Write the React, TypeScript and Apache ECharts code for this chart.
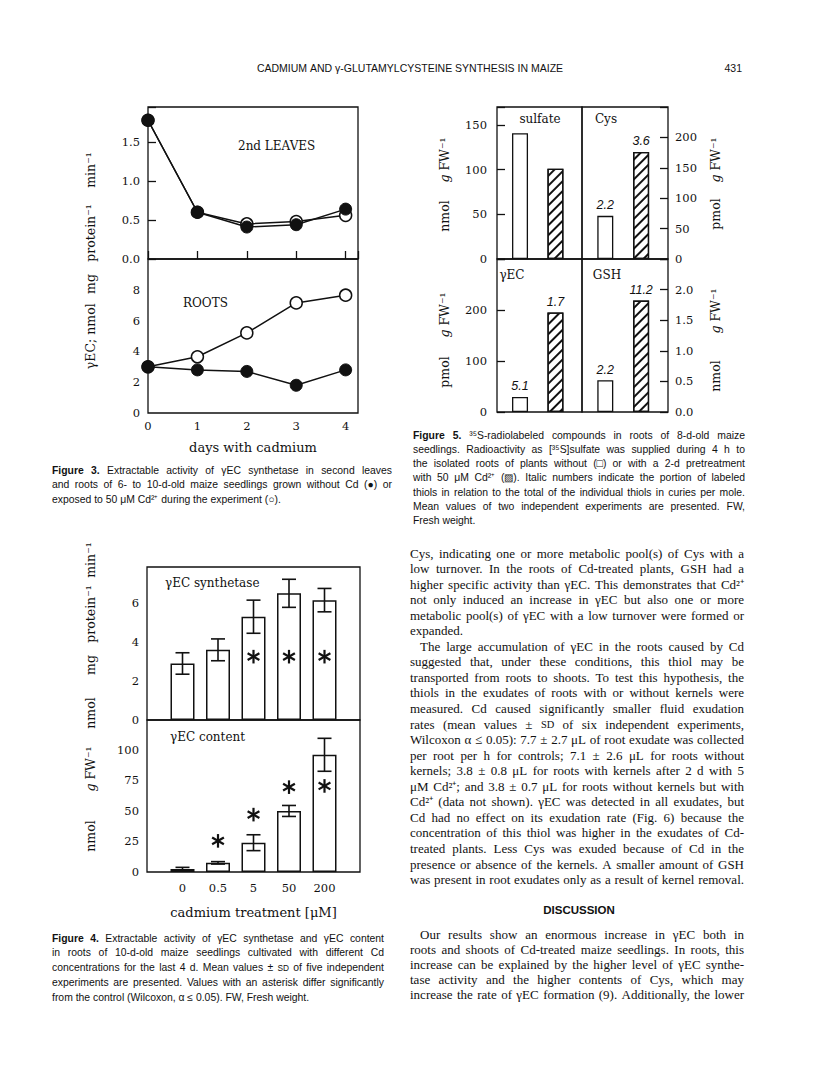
import React, { useEffect, useRef } from "react";
import * as echarts from "echarts";

// ---------- Figure 3 : gamma-EC synthetase vs. days with cadmium ----------
const days = [0, 1, 2, 3, 4];
const leavesControl = [1.78, 0.6, 0.41, 0.44, 0.64];
const leavesCd = [1.78, 0.6, 0.45, 0.48, 0.56];
const rootsControl = [3.0, 2.8, 2.7, 1.8, 2.8];
const rootsCd = [3.0, 3.65, 5.2, 7.15, 7.65];

// ---------- Figure 5 : 35S-labelled compounds (control, Cd) ----------
const treatments = ["control", "Cd"];
const sulfate = [140.7, 101];
const cys = [71, 176];
const gec = [29.5, 195];
const gsh = [0.52, 1.82];
const cysRatio = ["2.2", "3.6"];
const gecRatio = ["5.1", "1.7"];
const gshRatio = ["2.2", "11.2"];

// ---------- Figure 4 : cadmium treatment ----------
const cdLevels = ["0", "0.5", "5", "50", "200"];
const synthetase = [2.9, 3.6, 5.3, 6.5, 6.15];
const synthetaseSd = [0.55, 0.56, 0.85, 0.72, 0.6];
const content = [2.5, 7.5, 24, 50, 96];
const contentSd = [1.3, 1.0, 6.5, 4.5, 13.5];
const synthetaseStar = [null, null, 3.25, 3.25, 3.25];
const contentStar = [null, 25.5, 47, 69.5, 70.5];

// ---------- page text ----------
const header = "CADMIUM AND γ-GLUTAMYLCYSTEINE SYNTHESIS IN MAIZE";
const pageNo = "431";
const fig3Caption = [
  "Figure 3. Extractable activity of γEC synthetase in second leaves",
  "and roots of 6- to 10-d-old maize seedlings grown without Cd (●) or",
  "exposed to 50 μM Cd²⁺ during the experiment (○).",
];
const fig5Caption = [
  "Figure 5. ³⁵S-radiolabeled compounds in roots of 8-d-old maize",
  "seedlings. Radioactivity as [³⁵S]sulfate was supplied during 4 h to",
  "the isolated roots of plants without (□) or with a 2-d pretreatment",
  "with 50 μM Cd²⁺ (▨). Italic numbers indicate the portion of labeled",
  "thiols in relation to the total of the individual thiols in curies per mole.",
  "Mean values of two independent experiments are presented. FW,",
  "Fresh weight.",
];
const fig4Caption = [
  "Figure 4. Extractable activity of γEC synthetase and γEC content",
  "in roots of 10-d-old maize seedlings cultivated with different Cd",
  "concentrations for the last 4 d. Mean values ± SD of five independent",
  "experiments are presented. Values with an asterisk differ significantly",
  "from the control (Wilcoxon, α ≤ 0.05). FW, Fresh weight.",
];
const bodyParas = [
  [
    "Cys, indicating one or more metabolic pool(s) of Cys with a",
    "low turnover. In the roots of Cd-treated plants, GSH had a",
    "higher specific activity than γEC. This demonstrates that Cd²⁺",
    "not only induced an increase in γEC but also one or more",
    "metabolic pool(s) of γEC with a low turnover were formed or",
    "expanded.",
  ],
  [
    "The large accumulation of γEC in the roots caused by Cd",
    "suggested that, under these conditions, this thiol may be",
    "transported from roots to shoots. To test this hypothesis, the",
    "thiols in the exudates of roots with or without kernels were",
    "measured. Cd caused significantly smaller fluid exudation",
    "rates (mean values ± SD of six independent experiments,",
    "Wilcoxon α ≤ 0.05): 7.7 ± 2.7 μL of root exudate was collected",
    "per root per h for controls; 7.1 ± 2.6 μL for roots without",
    "kernels; 3.8 ± 0.8 μL for roots with kernels after 2 d with 5",
    "μM Cd²⁺; and 3.8 ± 0.7 μL for roots without kernels but with",
    "Cd²⁺ (data not shown). γEC was detected in all exudates, but",
    "Cd had no effect on its exudation rate (Fig. 6) because the",
    "concentration of this thiol was higher in the exudates of Cd-",
    "treated plants. Less Cys was exuded because of Cd in the",
    "presence or absence of the kernels. A smaller amount of GSH",
    "was present in root exudates only as a result of kernel removal.",
  ],
];
const discussionTitle = "DISCUSSION";
const discussionLines = [
  "Our results show an enormous increase in γEC both in",
  "roots and shoots of Cd-treated maize seedlings. In roots, this",
  "increase can be explained by the higher level of γEC synthe-",
  "tase activity and the higher contents of Cys, which may",
  "increase the rate of γEC formation (9). Additionally, the lower",
];

const INK = "#111";
const SERIF_FIG = '"DejaVu Serif", serif';
const SANS = '"Liberation Sans", Arial, sans-serif';
const SERIF_BODY = '"Liberation Serif", "Times New Roman", serif';

let measureCtx: CanvasRenderingContext2D | null = null;
function textWidth(t: string, font: string): number {
  if (!measureCtx) measureCtx = document.createElement("canvas").getContext("2d");
  measureCtx!.font = font;
  return measureCtx!.measureText(t).width;
}

function textEl(text: string, x: number, y: number, font: string, align = "left", extra: any = {}) {
  return {
    type: "text",
    x,
    y,
    silent: true,
    ...extra,
    style: {
      text,
      font,
      fill: INK,
      align,
      verticalAlign: "middle",
      textAlign: align,
      textVerticalAlign: "middle",
      ...(extra.style || {}),
    },
  };
}

function lineEls(text: string, x0: number, x1: number, y: number, size: number, family: string, justify: boolean, boldWords = 0) {
  const words = text.split(/\s+/).filter(Boolean);
  const items = words.map((t, i) => {
    const bold = i < boldWords;
    const s = t.replace(/[^A-Za-z]/g, "") === "SD" ? size * 0.8 : size;
    const font = `${bold ? "bold " : ""}${s}px ${family}`;
    return { t, font, w: textWidth(t, font) };
  });
  const sum = items.reduce((a, b) => a + b.w, 0);
  const space = textWidth(" ", `${size}px ${family}`);
  let gap = space;
  if (items.length > 1) {
    const natural = sum + space * (items.length - 1);
    if (justify || natural > 0.94 * (x1 - x0)) gap = (x1 - x0 - sum) / (items.length - 1);
  }
  let x = x0;
  const out: any[] = [];
  for (const it of items) {
    out.push(textEl(it.t, x, y, it.font));
    x += it.w + gap;
  }
  return out;
}

function vText(text: string, x: number, y: number, size = 12.5) {
  const parts = text.split("|");
  const rich = parts.map((p) => (p.startsWith("i:") ? `{i|${p.slice(2)}}` : `{n|${p}}`)).join("");
  return {
    type: "text",
    x,
    y,
    rotation: Math.PI / 2,
    silent: true,
    style: {
      text: rich,
      fill: INK,
      align: "center",
      verticalAlign: "middle",
      textAlign: "center",
      textVerticalAlign: "middle",
      rich: {
        n: { fontFamily: SERIF_FIG, fontSize: size, color: INK },
        i: { fontFamily: SERIF_FIG, fontSize: size, fontStyle: "italic", color: INK },
      },
    },
  };
}

function buildOption(): any {
  const tickLabel = { color: INK, fontFamily: SERIF_FIG, fontSize: 11.5 };
  const onGrid = (interval: number, digits: number, max: number) => (v: number) =>
    v < max - 1e-9 && Math.abs(v / interval - Math.round(v / interval)) < 1e-6 ? v.toFixed(digits) : "";
  const tickInside = { show: true, inside: true, length: 8, lineStyle: { color: INK, width: 1.3 } };
  const noLine = { show: false, onZero: false };

  const grids = [
    { left: 148, top: 107, width: 210, height: 152 },
    { left: 148, top: 259, width: 210, height: 154 },
    { left: 497, top: 107, width: 85, height: 152 },
    { left: 582, top: 107, width: 86, height: 152 },
    { left: 497, top: 259, width: 85, height: 153 },
    { left: 582, top: 259, width: 86, height: 153 },
    { left: 147, top: 567, width: 213, height: 153 },
    { left: 147, top: 720, width: 213, height: 152 },
  ].map((g) => ({
    ...g,
    show: true,
    borderColor: INK,
    borderWidth: 1.3,
    backgroundColor: "transparent",
    containLabel: false,
    outerBoundsMode: "none",
  }));

  const paddedCd = ["", ...cdLevels, ""];
  const f5x = (gi: number) => ({ gridIndex: gi, type: "value", min: -0.65, max: 1.75, show: false, axisLine: noLine });

  const xAxis = [
    { gridIndex: 0, type: "value", min: 0, max: 4.25, interval: 1, axisLine: noLine, axisTick: tickInside, axisLabel: { show: false }, splitLine: { show: false } },
    {
      gridIndex: 1, type: "value", min: 0, max: 4.25, interval: 1, axisLine: noLine, axisTick: { show: false },
      axisLabel: { ...tickLabel, margin: 7, formatter: onGrid(1, 0, 4.25) }, splitLine: { show: false },
      name: "days with cadmium", nameLocation: "middle", nameGap: 28,
      nameTextStyle: { color: INK, fontFamily: SERIF_FIG, fontSize: 13 },
    },
    f5x(2), f5x(3), f5x(4), f5x(5),
    { gridIndex: 6, type: "category", data: paddedCd, boundaryGap: false, axisLine: noLine, axisTick: { show: false }, axisLabel: { show: false }, splitLine: { show: false } },
    {
      gridIndex: 7, type: "category", data: paddedCd, boundaryGap: false, axisLine: noLine, axisTick: { show: false },
      axisLabel: { ...tickLabel, margin: 10, interval: 0 }, splitLine: { show: false },
      name: "cadmium treatment [μM]", nameLocation: "middle", nameGap: 34,
      nameTextStyle: { color: INK, fontFamily: SERIF_FIG, fontSize: 13 },
    },
  ];

  const yv = (gi: number, min: number, max: number, interval: number, digits: number, ticks: boolean, margin: number, position = "left") => ({
    gridIndex: gi, type: "value", min, max, interval, position,
    axisLine: noLine, splitLine: { show: false },
    axisTick: ticks ? tickInside : { show: false },
    axisLabel: { ...tickLabel, margin, formatter: onGrid(interval, digits, max) },
  });

  const yAxis = [
    yv(0, 0, 1.95, 0.5, 1, true, 8),
    yv(1, 0, 10, 2, 0, false, 8),
    yv(2, 0, 170, 50, 0, true, 10),
    yv(3, 0, 250, 50, 0, true, 7, "right"),
    yv(4, 0, 300, 100, 0, true, 10),
    yv(5, 0, 2.5, 0.5, 1, true, 7, "right"),
    yv(6, 0, 7.85, 2, 0, false, 8),
    yv(7, 0, 124.5, 25, 0, false, 8),
  ];

  const lineSeries = (axis: number, values: number[], filled: boolean, z: number) => ({
    type: "line", xAxisIndex: axis, yAxisIndex: axis, z,
    data: days.map((d, i) => [d, values[i]]),
    symbol: "circle", symbolSize: 12, showSymbol: true,
    lineStyle: { color: INK, width: 1.5 },
    itemStyle: filled ? { color: INK, borderColor: INK, borderWidth: 1 } : { color: "#fff", borderColor: INK, borderWidth: 1.5 },
    emphasis: { disabled: true }, silent: true,
  });

  const openStyle = { color: "#fff", borderColor: INK, borderWidth: 1.3 };
  const hatchStyle = {
    color: "#fff", borderColor: INK, borderWidth: 1.3,
    decal: { symbol: "rect", symbolSize: 1, color: INK, dashArrayX: [1, 0], dashArrayY: [1.1, 4.6], rotation: -Math.PI / 4 },
  };
  const f5Bar = (gi: number, values: number[], labels: string[] | null) => ({
    type: "bar", xAxisIndex: gi, yAxisIndex: gi, barWidth: 16, silent: true,
    data: values.map((v, i) => ({ value: [i, v], name: treatments[i], itemStyle: i === 0 ? openStyle : hatchStyle })),
    label: labels
      ? { show: true, position: "top", distance: 4, formatter: (p: any) => labels[p.dataIndex], fontStyle: "italic", fontFamily: SANS, fontSize: 12.5, color: INK }
      : { show: false },
  });

  const f4Bar = (gi: number, values: number[]) => ({
    type: "bar", xAxisIndex: gi, yAxisIndex: gi, barWidth: 24, silent: true,
    data: values.map((v, i) => [i + 1, v]),
    itemStyle: { color: "#fff", borderColor: INK, borderWidth: 1.5 },
  });

  const errSeries = (gi: number, values: number[], sd: number[]) => ({
    type: "custom", xAxisIndex: gi, yAxisIndex: gi, z: 5, silent: true,
    data: values.map((v, i) => [i + 1, v - sd[i], v + sd[i]]),
    renderItem: (_p: any, api: any) => {
      const x = api.value(0);
      const lo = api.coord([x, api.value(1)]);
      const hi = api.coord([x, api.value(2)]);
      const w = 7;
      const st = { stroke: INK, lineWidth: 1.6 };
      return {
        type: "group",
        children: [
          { type: "line", shape: { x1: lo[0], y1: lo[1], x2: hi[0], y2: hi[1] }, style: st },
          { type: "line", shape: { x1: lo[0] - w, y1: lo[1], x2: lo[0] + w, y2: lo[1] }, style: st },
          { type: "line", shape: { x1: hi[0] - w, y1: hi[1], x2: hi[0] + w, y2: hi[1] }, style: st },
        ],
      };
    },
  });

  const starSeries = (gi: number, stars: (number | null)[]) => ({
    type: "custom", xAxisIndex: gi, yAxisIndex: gi, z: 6, silent: true,
    data: stars.map((v, i) => (v == null ? null : [i + 1, v])).filter((d) => d !== null),
    renderItem: (_p: any, api: any) => {
      const c = api.coord([api.value(0), api.value(1)]);
      const r = 6.8;
      return {
        type: "group",
        children: [90, 30, 150].map((a) => {
          const rad = (a * Math.PI) / 180;
          return {
            type: "line",
            shape: { x1: c[0] - r * Math.cos(rad), y1: c[1] - r * Math.sin(rad), x2: c[0] + r * Math.cos(rad), y2: c[1] + r * Math.sin(rad) },
            style: { stroke: INK, lineWidth: 2.2 },
          };
        }),
      };
    },
  });

  const series = [
    lineSeries(0, leavesCd, false, 2),
    lineSeries(0, leavesControl, true, 3),
    lineSeries(1, rootsCd, false, 2),
    lineSeries(1, rootsControl, true, 3),
    f5Bar(2, sulfate, null),
    f5Bar(3, cys, cysRatio),
    f5Bar(4, gec, gecRatio),
    f5Bar(5, gsh, gshRatio),
    f4Bar(6, synthetase),
    f4Bar(7, content),
    errSeries(6, synthetase, synthetaseSd),
    errSeries(7, content, contentSd),
    starSeries(6, synthetaseStar),
    starSeries(7, contentStar),
  ];

  // ---------- text elements ----------
  const els: any[] = [];
  const figFont = (s: number) => `${s}px ${SERIF_FIG}`;

  // running head
  const hFont = `10.5px ${SANS}`;
  const hw = textWidth(header, hFont);
  els.push(...lineEls(header, 410 - hw / 2, 410 + hw / 2, 68, 10.5, SANS, false));
  els.push(textEl(pageNo, 742, 68, hFont, "right"));

  // figure 3 labels
  els.push(textEl("2nd LEAVES", 238, 146, figFont(12)));
  els.push(textEl("ROOTS", 183, 303, figFont(12)));
  els.push(vText("γEC;", 90, 354), vText("nmol", 90, 319), vText("mg", 90, 284), vText("protein⁻¹", 90, 233), vText("min⁻¹", 90, 170));

  // figure 5 labels
  els.push(textEl("sulfate", 540, 119, figFont(12), "center"));
  els.push(textEl("Cys", 606, 119, figFont(12), "center"));
  els.push(textEl("γEC", 512, 275, figFont(12), "center"));
  els.push(textEl("GSH", 607, 275, figFont(12), "center"));
  els.push(vText("nmol", 444, 216), vText("i:g| FW⁻¹", 444, 160));
  els.push(vText("pmol", 444, 372), vText("i:g| FW⁻¹", 444, 315));
  els.push(vText("pmol", 715, 214), vText("i:g| FW⁻¹", 715, 160));
  els.push(vText("nmol", 715, 376), vText("i:g| FW⁻¹", 715, 311));

  // figure 4 labels
  els.push(textEl("γEC synthetase", 165, 583, figFont(12)));
  els.push(textEl("γEC content", 170, 737, figFont(12)));
  els.push(vText("nmol", 90, 713), vText("mg", 90, 665), vText("protein⁻¹", 90, 614), vText("min⁻¹", 90, 560));
  els.push(vText("nmol", 90, 836), vText("i:g| FW⁻¹", 90, 769));

  // captions
  const capSize = 10.4;
  fig3Caption.forEach((l, i) => els.push(...lineEls(l, 52, 392, 470 + i * 14.5, capSize, SANS, i < fig3Caption.length - 1, i === 0 ? 2 : 0)));
  fig5Caption.forEach((l, i) => els.push(...lineEls(l, 413, 745, 435 + i * 14.3, capSize, SANS, i < fig5Caption.length - 1, i === 0 ? 2 : 0)));
  fig4Caption.forEach((l, i) => els.push(...lineEls(l, 52, 384, 938 + i * 14.8, capSize, SANS, i < fig4Caption.length - 1, i === 0 ? 2 : 0)));

  // body text
  const bodySize = 13;
  let k = 0;
  bodyParas.forEach((para, pi) => {
    para.forEach((l, li) => {
      const indent = pi > 0 && li === 0 ? 10 : 0;
      els.push(...lineEls(l, 410 + indent, 744, 553 + k * 15.55, bodySize, SERIF_BODY, li < para.length - 1));
      k++;
    });
  });
  const dFont = `bold 11.5px ${SANS}`;
  els.push(textEl(discussionTitle, 579, 910, dFont, "center"));
  discussionLines.forEach((l, i) => {
    els.push(...lineEls(l, 410 + (i === 0 ? 10 : 0), 744, 934 + i * 15, bodySize, SERIF_BODY, true));
  });

  return {
    animation: false,
    backgroundColor: "#fff",
    textStyle: { fontFamily: SERIF_FIG },
    grid: grids,
    xAxis,
    yAxis,
    series,
    graphic: els,
  };
}

export default function App() {
  const ref = useRef<HTMLDivElement>(null);
  useEffect(() => {
    if (!ref.current) return;
    const chart = echarts.init(ref.current, null, { renderer: "svg" });
    chart.setOption(buildOption());
    return () => chart.dispose();
  }, []);
  return (
    <div
      ref={ref}
      style={{ position: "absolute", left: 0, top: 0, width: 816, height: 1073, background: "#fff" }}
    />
  );
}
